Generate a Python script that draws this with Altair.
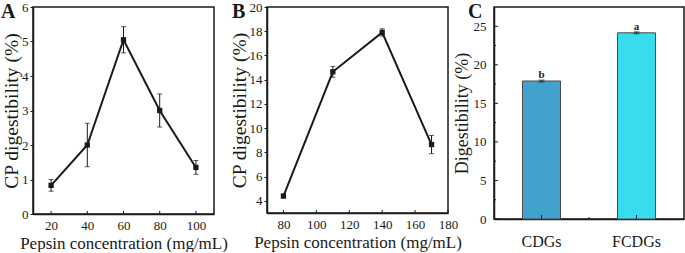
import altair as alt
import pandas as pd

# ---- data ----
A_conc = [20, 40, 60, 80, 100]
A_cp = [0.83, 2.0, 5.05, 3.0, 1.35]
A_err = [0.17, 0.63, 0.38, 0.48, 0.2]
A_xticks = [20, 40, 60, 80, 100]
A_yticks = [0, 1, 2, 3, 4, 5, 6]

B_conc = [80, 110, 140, 170]
B_cp = [4.4, 14.65, 17.9, 8.65]
B_err = [0.15, 0.45, 0.3, 0.75]
B_xticks = [80, 100, 120, 140, 160, 180]
B_yticks = [4, 6, 8, 10, 12, 14, 16, 18, 20]

C_group = ["CDGs", "FCDGs"]
C_dig = [17.9, 24.15]
C_err = [0.12, 0.12]
C_sig = ["b", "a"]
C_colors = ["#41a3cd", "#38dcee"]
C_major = [0, 5, 10, 15, 20, 25]
C_minor = [2.5, 7.5, 12.5, 17.5, 22.5]

FONT = "Liberation Serif"
INK = "#1a1a1a"

AX = dict(labelFont=FONT, titleFont=FONT, labelFontSize=13,
          titleFontWeight="normal", labelColor=INK, titleColor=INK, grid=False,
          domainColor=INK, domainWidth=1.5, tickColor=INK, tickWidth=1,
          labelFlush=False, labelOverlap=False)


def line_panel(x, y, err, xdom, ydom, xticks, yticks, W, H, ytitle, letter, letter_x):
    df = pd.DataFrame({
        "x": x, "y": y,
        "lo": [a - b for a, b in zip(y, err)],
        "hi": [a + b for a, b in zip(y, err)],
    })
    xs = alt.Scale(domain=xdom, nice=False, zero=False)
    ys = alt.Scale(domain=ydom, nice=False, zero=False)
    xax = alt.Axis(values=xticks, title="Pepsin concentration (mg/mL)", ticks=False,
                   labelPadding=5, titlePadding=3, titleFontSize=17, **AX)
    yax = alt.Axis(values=yticks, title=ytitle, tickSize=3, labelPadding=2,
                   titlePadding=0, titleFontSize=19.5, **AX)
    X = alt.X("x:Q", scale=xs, axis=xax)
    base = alt.Chart(df)
    line = base.mark_line(color=INK, strokeWidth=2).encode(
        x=X, y=alt.Y("y:Q", scale=ys, axis=yax))
    bars = base.mark_rule(color=INK, strokeWidth=1).encode(
        x=X, y=alt.Y("lo:Q", scale=ys, axis=yax), y2="hi:Q")
    capl = base.mark_tick(orient="horizontal", size=5, thickness=1, color=INK).encode(
        x=X, y=alt.Y("lo:Q", scale=ys, axis=yax))
    caph = base.mark_tick(orient="horizontal", size=5, thickness=1, color=INK).encode(
        x=X, y=alt.Y("hi:Q", scale=ys, axis=yax))
    pts = base.mark_point(shape="square", filled=True, size=28, color=INK, opacity=1).encode(
        x=X, y=alt.Y("y:Q", scale=ys, axis=yax))
    tk = alt.Chart(pd.DataFrame({"x": xticks})).mark_rule(color=INK, strokeWidth=1).encode(
        x=X, y=alt.value(H), y2=alt.value(H - 3))
    lab = alt.Chart(pd.DataFrame({"l": [letter]})).mark_text(
        font=FONT, fontSize=20, fontWeight="bold", align="left", baseline="alphabetic", color=INK
    ).encode(text="l:N", x=alt.value(letter_x), y=alt.value(11))
    return alt.layer(line, bars, capl, caph, pts, tk, lab).properties(width=W, height=H)


A = line_panel(A_conc, A_cp, A_err, [10, 110], [0, 6], A_xticks, A_yticks, 181, 207,
               "CP digestibility (%)", "A", -32)
B = line_panel(B_conc, B_cp, B_err, [70, 180], [3, 20], B_xticks, B_yticks, 181, 206,
               "CP digestibility (%)", "B", -35)

# ---- panel C ----
CW, CH = 190, 212
dfc = pd.DataFrame({
    "g": C_group, "v": C_dig,
    "lo": [a - b for a, b in zip(C_dig, C_err)],
    "hi": [a + b for a, b in zip(C_dig, C_err)],
    "sig": C_sig, "c": C_colors,
})
cxs = alt.Scale(domain=C_group, paddingInner=0.6, paddingOuter=0.3)
cys = alt.Scale(domain=[0, 27.5], nice=False, zero=True)
cxax = alt.Axis(title=None, labelAngle=0, ticks=False, labelPadding=14,
                **{**AX, "labelFontSize": 16})
cyax = alt.Axis(values=C_major, title="Digestibility (%)", ticks=False,
                labelPadding=8, titlePadding=2, titleFontSize=18, **AX)
CX = alt.X("g:N", scale=cxs, sort=C_group, axis=cxax)
cbase = alt.Chart(dfc)
cbars = cbase.mark_bar(stroke="#4a4a4a", strokeWidth=1).encode(
    x=CX, y=alt.Y("v:Q", scale=cys, axis=cyax), color=alt.Color("c:N", scale=None))
cerr = cbase.mark_rule(color=INK, strokeWidth=1).encode(
    x=CX, y=alt.Y("lo:Q", scale=cys, axis=cyax), y2="hi:Q")
ccapl = cbase.mark_tick(orient="horizontal", size=6, thickness=1, color=INK).encode(
    x=CX, y=alt.Y("lo:Q", scale=cys, axis=cyax))
ccaph = cbase.mark_tick(orient="horizontal", size=6, thickness=1, color=INK).encode(
    x=CX, y=alt.Y("hi:Q", scale=cys, axis=cyax))
csig = cbase.mark_text(font=FONT, fontSize=11, fontWeight="bold", baseline="alphabetic", dy=-2,
                       color=INK).encode(x=CX, y=alt.Y("hi:Q", scale=cys, axis=cyax), text="sig:N")
cymaj = alt.Chart(pd.DataFrame({"v": C_major})).mark_rule(color=INK, strokeWidth=1).encode(
    y=alt.Y("v:Q", scale=cys, axis=cyax), x=alt.value(0), x2=alt.value(4))
cymin = alt.Chart(pd.DataFrame({"v": C_minor})).mark_rule(color=INK, strokeWidth=1).encode(
    y=alt.Y("v:Q", scale=cys, axis=cyax), x=alt.value(0), x2=alt.value(2))
cxmaj = cbase.mark_rule(color=INK, strokeWidth=1).encode(x=CX, y=alt.value(CH), y2=alt.value(CH - 4))
cxmid = alt.Chart(pd.DataFrame({"m": [0]})).mark_rule(color=INK, strokeWidth=1).encode(
    x=alt.value(CW / 2), y=alt.value(CH), y2=alt.value(CH - 2))
clab = alt.Chart(pd.DataFrame({"l": ["C"]})).mark_text(
    font=FONT, fontSize=20, fontWeight="bold", align="left", baseline="alphabetic", color=INK
).encode(text="l:N", x=alt.value(-26), y=alt.value(11))
C = alt.layer(cbars, cerr, ccapl, ccaph, csig, cymaj, cymin, cxmaj, cxmid, clab).properties(width=CW, height=CH)


def spacer(w):
    return alt.Chart(pd.DataFrame({"s": [0]})).mark_point(opacity=0).encode(
        x=alt.value(0), y=alt.value(0)
    ).properties(width=w, height=10, view=alt.ViewBackground(strokeOpacity=0))


chart = alt.hconcat(A, spacer(53), B, spacer(46), C, spacing=0, bounds="flush").properties(
    padding={"left": 0, "top": 0, "right": 0, "bottom": 0}
).configure_view(stroke=INK, strokeWidth=1.5)

chart.save("out.html", embed_options={"renderer": "svg", "actions": False})
